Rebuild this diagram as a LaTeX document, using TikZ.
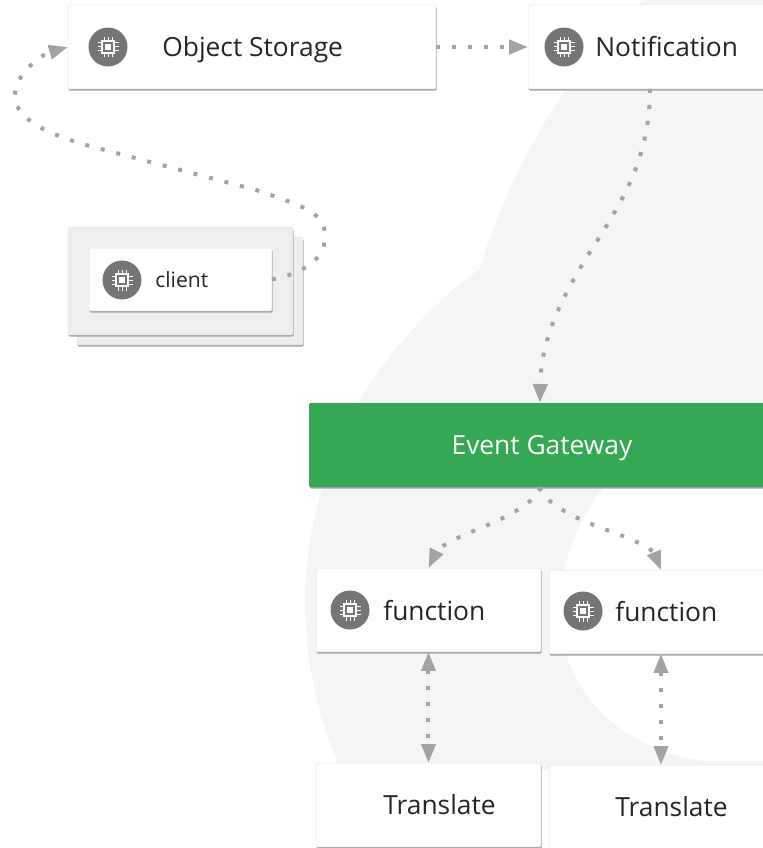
\documentclass[tikz,border=0pt]{standalone}
\usepackage{fontspec}
\setmainfont{Open Sans}
\usetikzlibrary{arrows.meta,shadows}
\definecolor{linkgray}{HTML}{A3A3A3}
\definecolor{cloudgray}{HTML}{F5F5F5}
\definecolor{stackgray}{HTML}{EEEEEE}
\definecolor{icongray}{HTML}{757575}
\definecolor{inkgray}{HTML}{262626}
\definecolor{gatewaygreen}{HTML}{34A853}
\tikzset{
  cardbox/.style={draw=black!10,line width=0.01cm,fill=white,rounded corners=0.03cm,inner sep=0pt,outer sep=0pt,anchor=north west,
    drop shadow={shadow xshift=0.012cm,shadow yshift=-0.035cm,fill=black!36,opacity=1}},
  cardtext/.style={text=inkgray,font=\fontsize{15pt}{17pt}\selectfont,anchor=base west,inner sep=0pt},
  chipicon/.style={circle,fill=icongray,minimum size=0.78cm,inner sep=0pt},
  linkflow/.style={draw=linkgray,line width=0.08cm,dash pattern=on 0.08cm off 0.24cm,-{Triangle[length=0.38cm,width=0.28cm,fill=linkgray]}},
  linkboth/.style={linkflow,{Triangle[length=0.38cm,width=0.28cm,fill=linkgray]}-{Triangle[length=0.38cm,width=0.28cm,fill=linkgray]}}
}
% small chip glyph, drawn in white inside the icon circle
\newcommand{\chipglyph}[1]{%
  \draw [white,line width=0.035cm] ([shift={(-0.125cm,-0.125cm)}]#1.center) rectangle ([shift={(0.125cm,0.125cm)}]#1.center);%
  \fill [white] ([shift={(-0.055cm,-0.055cm)}]#1.center) rectangle ([shift={(0.055cm,0.055cm)}]#1.center);%
  \foreach \t in {-0.08,0,0.08} {
    \draw [white,line width=0.02cm] ([shift={(\t cm,0.14cm)}]#1.center) -- ([shift={(\t cm,0.21cm)}]#1.center);%
    \draw [white,line width=0.02cm] ([shift={(\t cm,-0.14cm)}]#1.center) -- ([shift={(\t cm,-0.21cm)}]#1.center);%
    \draw [white,line width=0.02cm] ([shift={(0.14cm,\t cm)}]#1.center) -- ([shift={(0.21cm,\t cm)}]#1.center);%
    \draw [white,line width=0.02cm] ([shift={(-0.14cm,\t cm)}]#1.center) -- ([shift={(-0.21cm,\t cm)}]#1.center);%
  }}
\begin{document}
\begin{tikzpicture}[x=0.02cm,y=-0.02cm]
\useasboundingbox (0,0) rectangle (763,848);
\clip (0,0) rectangle (763,848);

% Drawing cloud background
\fill [cloudgray] (643,0) -- (763,0) -- (763,770) -- (340,770) -- (337,762)
  .. controls (318,715) and (305,660) .. (305,597)
  .. controls (305,545) and (320,470) .. (358,403)
  .. controls (390,350) and (435,300) .. (480,269)
  .. controls (500,195) and (565,65) .. (643,0) -- cycle;
\fill [white] (763,761) -- (705,761) .. controls (620,750) and (563,690) .. (560,620)
  .. controls (558,570) and (575,520) .. (610,480) -- (763,480) -- cycle;

% Drawing client stack
\node [cardbox,fill=stackgray,minimum width=4.52cm,minimum height=2.16cm] (clientback) at (77,237) {};
\node [cardbox,fill=stackgray,minimum width=4.5cm,minimum height=2.16cm] (clientfront) at (68,227) {};

% Drawing boxes
\node [cardbox,minimum width=7.36cm,minimum height=1.68cm] (storage) at (68,5) {};
\node [cardbox,minimum width=4.88cm,minimum height=1.68cm] (notification) at (528,5) {};
\node [cardbox,minimum width=3.66cm,minimum height=1.26cm] (client) at (89,248) {};
\node [cardbox,draw=none,fill=gatewaygreen,minimum width=9.24cm,minimum height=1.68cm] (gateway) at (309,403) {};
\node [cardbox,minimum width=4.5cm,minimum height=1.68cm] (functionl) at (316,568) {};
\node [cardbox,minimum width=4.48cm,minimum height=1.68cm] (functionr) at (549,570) {};
\node [cardbox,minimum width=4.5cm,minimum height=1.68cm] (translatel) at (316,763) {};
\node [cardbox,minimum width=4.48cm,minimum height=1.68cm] (translater) at (549,765) {};

% Drawing icons
\node [chipicon] (iconstorage) at (108,47) {};
\chipglyph{iconstorage}
\node [chipicon] (iconnotification) at (564,47) {};
\chipglyph{iconnotification}
\node [chipicon] (iconclient) at (122,280) {};
\chipglyph{iconclient}
\node [chipicon] (iconfunctionl) at (350,610) {};
\chipglyph{iconfunctionl}
\node [chipicon] (iconfunctionr) at (583,611) {};
\chipglyph{iconfunctionr}

% Drawing labels
\node [cardtext] (labelstorage) at (162,57) {Object Storage};
\node [cardtext] (labelnotification) at (595,57) {Notification};
\node [cardtext,font=\fontsize{12pt}{14pt}\selectfont] (labelclient) at (155,287) {client};
\node [text=white,font=\fontsize{15pt}{17pt}\selectfont,anchor=base,inner sep=0pt] (labelgateway) at (542,454) {Event Gateway};
\node [cardtext] (labelfunctionl) at (383,620) {function};
\node [cardtext] (labelfunctionr) at (615,621) {function};
\node [cardtext] (labeltranslatel) at (383,814) {Translate};
\node [cardtext] (labeltranslater) at (615,816) {Translate};

% Drawing connectors
\draw [linkflow] (storage.east) -- (notification.west);
\draw [linkflow] (notification.south) .. controls (650,160) and (620,205) .. (590,252)
  .. controls (560,300) and (541,340) .. (gateway.north);
\draw [linkflow] (client.east) .. controls (310,272) and (326,255) .. (325,235)
  .. controls (325,212) and (300,205) .. (256,190) -- (86,145)
  .. controls (35,130) and (15,115) .. (15,95) .. controls (15,75) and (40,55) .. (storage.west);
\draw [linkflow] (gateway.south) .. controls (535,505) and (500,520) .. (476,530)
  .. controls (455,538) and (438,548) .. (functionl.north);
\draw [linkflow] (gateway.south) .. controls (545,505) and (580,520) .. (604,529)
  .. controls (630,538) and (652,548) .. (functionr.north);
\draw [linkboth] (functionl.south) -- (translatel.north);
\draw [linkboth] (functionr.south) -- (translater.north);
\end{tikzpicture}
\end{document}
